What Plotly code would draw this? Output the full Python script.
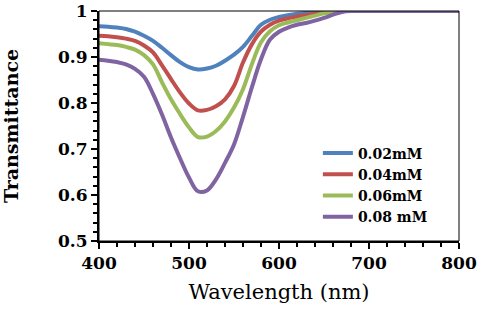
import plotly.graph_objects as go

wavelength = [400, 410, 420, 430, 440, 450, 460, 470, 480, 490, 500, 510, 520, 530, 540,
              550, 560, 570, 580, 590, 600, 610, 620, 630, 640, 650, 660, 670, 680, 690,
              700, 720, 740, 760, 780, 800]

t_002 = [0.967, 0.966, 0.964, 0.961, 0.955, 0.946, 0.935, 0.920, 0.904, 0.889, 0.878, 0.873,
         0.875, 0.881, 0.892, 0.905, 0.922, 0.946, 0.970, 0.981, 0.987, 0.991, 0.994, 0.996,
         0.998, 0.999, 1.0, 1.0, 1.0, 1.0, 1.0, 1.0, 1.0, 1.0, 1.0, 1.0]
t_004 = [0.946, 0.945, 0.943, 0.940, 0.935, 0.925, 0.910, 0.882, 0.852, 0.823, 0.799, 0.784,
         0.785, 0.793, 0.808, 0.837, 0.888, 0.928, 0.955, 0.970, 0.979, 0.984, 0.988, 0.991,
         0.994, 0.997, 0.999, 1.0, 1.0, 1.0, 1.0, 1.0, 1.0, 1.0, 1.0, 1.0]
t_006 = [0.930, 0.928, 0.926, 0.922, 0.916, 0.904, 0.884, 0.845, 0.808, 0.776, 0.747, 0.726,
         0.727, 0.739, 0.760, 0.790, 0.830, 0.885, 0.932, 0.956, 0.969, 0.975, 0.980, 0.985,
         0.990, 0.995, 0.998, 1.0, 1.0, 1.0, 1.0, 1.0, 1.0, 1.0, 1.0, 1.0]
t_008 = [0.894, 0.892, 0.889, 0.884, 0.874, 0.857, 0.820, 0.775, 0.725, 0.680, 0.638, 0.608,
         0.610, 0.634, 0.670, 0.710, 0.770, 0.835, 0.895, 0.938, 0.955, 0.964, 0.970, 0.974,
         0.979, 0.985, 0.992, 0.998, 1.0, 1.0, 1.0, 1.0, 1.0, 1.0, 1.0, 1.0]

series_names = ["0.02mM", "0.04mM", "0.06mM", "0.08 mM"]
series_values = [t_002, t_004, t_006, t_008]
colors = ["#4F81BD", "#C0504D", "#9BBB59", "#8064A2"]

fig = go.Figure()
for name, vals, col in zip(series_names, series_values, colors):
    fig.add_trace(go.Scatter(x=wavelength, y=vals, mode="lines", name=name,
                             line=dict(color=col, width=4, shape="spline", smoothing=1.0)))

serif = "DejaVu Serif"
fig.update_layout(
    width=480, height=311,
    margin=dict(l=99, r=21, t=11, b=70, autoexpand=False),
    paper_bgcolor="white", plot_bgcolor="white",
    font=dict(family=serif, color="black"),
    showlegend=True,
    legend=dict(x=0.608, y=0.45, xanchor="left", yanchor="top",
                font=dict(family=serif, size=14, color="black", weight="bold"),
                bgcolor="rgba(0,0,0,0)", tracegroupgap=0),
    shapes=[dict(type="rect", xref="paper", yref="paper", x0=0, y0=0, x1=1, y1=1,
                 line=dict(color="black", width=1), layer="above")],
)
fig.update_xaxes(
    range=[400, 800], dtick=100, tick0=400, showgrid=False, zeroline=False, automargin=False,
    showline=True, linecolor="black", linewidth=2, ticklabeloverflow="allow",
    ticks="outside", ticklen=6, tickwidth=2, tickcolor="black",
    minor=dict(dtick=20, ticks="outside", ticklen=4, tickwidth=1.5, tickcolor="black"),
    tickfont=dict(family=serif, size=17, color="black", weight="bold"),
    title=dict(text="Wavelength (nm)", font=dict(family=serif, size=21, color="black"), standoff=12),
)
fig.update_yaxes(
    range=[0.5, 1.0], dtick=0.1, tick0=0.5, showgrid=False, zeroline=False, automargin=False,
    showline=True, linecolor="black", linewidth=2, ticklabeloverflow="allow",
    ticks="outside", ticklen=6, tickwidth=2, tickcolor="black",
    minor=dict(dtick=0.02, ticks="outside", ticklen=4, tickwidth=1.5, tickcolor="black"),
    tickfont=dict(family=serif, size=17, color="black", weight="bold"),
    title=dict(text="Transmittance", font=dict(family=serif, size=19, color="black", weight="bold"), standoff=38),
)

# remove the page's default body margin so the figure sits at the window's corner
fig.write_html("out.html", config={"displayModeBar": False},
               post_script="document.body.style.margin='0';")
